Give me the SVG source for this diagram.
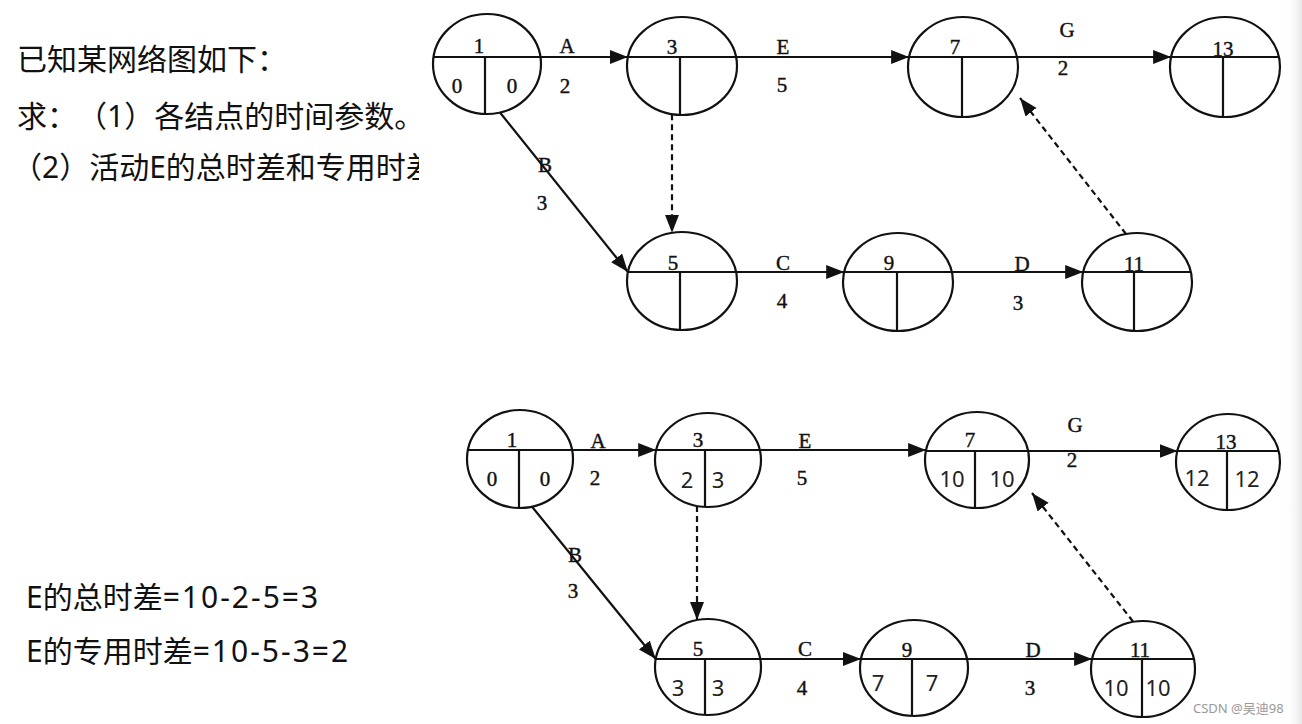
<svg xmlns="http://www.w3.org/2000/svg" width="1302" height="724" viewBox="0 0 1302 724">
<style>
.nd{fill:none;stroke:#111;stroke-width:2.2}
.ln{stroke:#111;stroke-width:2.2;fill:none}
.e{stroke:#111;stroke-width:2.2;fill:none;marker-end:url(#ah)}
.d{stroke:#111;stroke-width:2.2;fill:none;stroke-dasharray:6 4;marker-end:url(#ah)}
.s{font-family:"Liberation Serif","DejaVu Serif",serif;font-size:21px;fill:#111;stroke:#111;stroke-width:0.4;text-anchor:middle}
.v{font-family:"Noto Sans","Liberation Sans",sans-serif;font-size:22px;fill:#222;text-anchor:middle}
.cn{font-family:"Noto Sans","Noto Sans CJK SC",sans-serif;font-size:30px;fill:#111;text-spacing-trim:space-all}
.wm{font-family:"Noto Sans","Noto Sans CJK SC",sans-serif;font-size:13px;fill:#999}
</style>
<defs>
<marker id="ah" markerUnits="userSpaceOnUse" markerWidth="20" markerHeight="16" refX="18" refY="7" orient="auto" viewBox="0 0 20 16">
<path d="M0,0 L18,7 L0,14 z" fill="#111"/>
</marker>
<clipPath id="clipL"><rect x="0" y="0" width="419" height="724"/></clipPath>
<linearGradient id="edge" x1="0" y1="0" x2="1" y2="0">
<stop offset="0" stop-color="#ffffff" stop-opacity="0"/>
<stop offset="1" stop-color="#e6e6e6"/>
</linearGradient>
</defs>
<rect width="1302" height="724" fill="#fff"/>
<rect x="1284" y="0" width="18" height="724" fill="url(#edge)"/>

<g id="question" clip-path="url(#clipL)">
<text class="cn" x="17" y="70">已知某网络图如下：</text>
<text class="cn" x="17" y="127">求：（1）各结点的时间参数。</text>
<text class="cn" x="12" y="178">（2）活动E的总时差和专用时差</text>
</g>
<g id="answer">
<text class="cn" x="26" y="608">E的总时差<tspan letter-spacing="2">=10-2-5=3</tspan></text>
<text class="cn" x="26" y="662">E的专用时差<tspan letter-spacing="2">=10-5-3=2</tspan></text>
</g>

<!-- top diagram connectors -->
<g id="connectors-top">
<line class="e" x1="540.5" y1="57" x2="627.9" y2="57"/>
<line class="e" x1="736.1" y1="57" x2="909.1" y2="57"/>
<line class="e" x1="1016.9" y1="57" x2="1171.1" y2="57"/>
<line class="e" x1="500" y1="112.5" x2="627.9" y2="272"/>
<line class="d" x1="672" y1="114.2" x2="672" y2="232.8"/>
<line class="e" x1="736.1" y1="272" x2="844.2" y2="272"/>
<line class="e" x1="951.8" y1="272" x2="1083.2" y2="272"/>
<line class="d" x1="1126" y1="234" x2="1020" y2="98"/>
<text class="s" x="567" y="53">A</text><text class="s" x="565" y="93">2</text>
<text class="s" x="783" y="54">E</text><text class="s" x="782" y="92">5</text>
<text class="s" x="1067" y="37">G</text><text class="s" x="1063" y="75">2</text>
<text class="s" x="545" y="172">B</text><text class="s" x="542" y="210">3</text>
<text class="s" x="783" y="270">C</text><text class="s" x="782" y="308">4</text>
<text class="s" x="1022" y="271">D</text><text class="s" x="1018" y="310">3</text>
</g>

<g id="t1"><ellipse class="nd" cx="487" cy="64" rx="54" ry="50"/><line class="ln" x1="433.5" y1="57" x2="540.5" y2="57"/><line class="ln" x1="485" y1="57" x2="485" y2="114"/><text class="s" x="479" y="53">1</text><text class="s" x="457" y="93">0</text><text class="s" x="512" y="93">0</text></g>
<g id="t3"><ellipse class="nd" cx="682" cy="66" rx="55" ry="49"/><line class="ln" x1="627.9" y1="57" x2="736.1" y2="57"/><line class="ln" x1="680" y1="57" x2="680" y2="115"/><text class="s" x="672" y="54">3</text></g>
<g id="t7"><ellipse class="nd" cx="963" cy="67" rx="55" ry="50"/><line class="ln" x1="909.1" y1="57" x2="1016.9" y2="57"/><line class="ln" x1="962" y1="57" x2="962" y2="117"/><text class="s" x="955" y="54">7</text></g>
<g id="t13"><ellipse class="nd" cx="1225" cy="67" rx="55" ry="50"/><line class="ln" x1="1171.1" y1="57" x2="1278.9" y2="57"/><line class="ln" x1="1223" y1="57" x2="1223" y2="117"/><text class="s" x="1223" y="56">13</text></g>
<g id="t5"><ellipse class="nd" cx="682" cy="281" rx="55" ry="49"/><line class="ln" x1="627.9" y1="272" x2="736.1" y2="272"/><line class="ln" x1="680" y1="272" x2="680" y2="330"/><text class="s" x="673" y="270">5</text></g>
<g id="t9"><ellipse class="nd" cx="898" cy="282" rx="55" ry="49"/><line class="ln" x1="844.2" y1="272" x2="951.8" y2="272"/><line class="ln" x1="897" y1="272" x2="897" y2="331"/><text class="s" x="889" y="270">9</text></g>
<g id="t11"><ellipse class="nd" cx="1137" cy="282" rx="55" ry="49"/><line class="ln" x1="1083.2" y1="272" x2="1190.8" y2="272"/><line class="ln" x1="1134" y1="272" x2="1134" y2="331"/><text class="s" x="1134" y="271">11</text></g>

<!-- bottom diagram connectors -->
<g id="connectors-bottom">
<line class="e" x1="572.1" y1="450" x2="656.2" y2="450"/>
<line class="e" x1="759.8" y1="450" x2="926.1" y2="450"/>
<line class="e" x1="1027.9" y1="451" x2="1177.6" y2="451"/>
<line class="e" x1="532" y1="506.7" x2="655.7" y2="659"/>
<line class="d" x1="697" y1="506" x2="697" y2="620"/>
<line class="e" x1="760.3" y1="659" x2="861" y2="659"/>
<line class="e" x1="967" y1="659" x2="1092.1" y2="659"/>
<line class="d" x1="1133" y1="621.5" x2="1032" y2="493"/>
<text class="s" x="598" y="448">A</text><text class="s" x="595" y="485">2</text>
<text class="s" x="805" y="448">E</text><text class="s" x="802" y="485">5</text>
<text class="s" x="1075" y="432">G</text><text class="s" x="1072" y="467">2</text>
<text class="s" x="575" y="562">B</text><text class="s" x="573" y="598">3</text>
<text class="s" x="805" y="656">C</text><text class="s" x="802" y="695">4</text>
<text class="s" x="1033" y="657">D</text><text class="s" x="1030" y="695">3</text>
</g>

<g id="b1"><ellipse class="nd" cx="520" cy="459" rx="53" ry="49"/><line class="ln" x1="467.9" y1="450" x2="572.1" y2="450"/><line class="ln" x1="519" y1="450" x2="519" y2="508"/><text class="s" x="512" y="447">1</text><text class="s" x="492" y="486">0</text><text class="s" x="545" y="486">0</text></g>
<g id="b3"><ellipse class="nd" cx="708" cy="460" rx="53" ry="47"/><line class="ln" x1="656.2" y1="450" x2="759.8" y2="450"/><line class="ln" x1="705" y1="450" x2="705" y2="507"/><text class="s" x="698" y="447">3</text><text class="v" x="687" y="488">2</text><text class="v" x="718" y="488">3</text></g>
<g id="b7"><ellipse class="nd" cx="977" cy="460" rx="52" ry="48"/><line class="ln" x1="926.1" y1="451" x2="1027.9" y2="451"/><line class="ln" x1="975" y1="451" x2="975" y2="508"/><text class="s" x="970" y="447">7</text><text class="v" x="952" y="487">10</text><text class="v" x="1002" y="487">10</text></g>
<g id="b13"><ellipse class="nd" cx="1228" cy="462" rx="52" ry="48"/><line class="ln" x1="1177.6" y1="451" x2="1278.4" y2="451"/><line class="ln" x1="1227" y1="451" x2="1227" y2="510"/><text class="s" x="1226" y="449">13</text><text class="v" x="1197" y="486">12</text><text class="v" x="1247" y="487">12</text></g>
<g id="b5"><ellipse class="nd" cx="708" cy="667" rx="53" ry="48"/><line class="ln" x1="655.7" y1="659" x2="760.3" y2="659"/><line class="ln" x1="705" y1="659" x2="705" y2="715"/><text class="s" x="698" y="656">5</text><text class="v" x="678" y="696">3</text><text class="v" x="718" y="696">3</text></g>
<g id="b9"><ellipse class="nd" cx="914" cy="668" rx="54" ry="48"/><line class="ln" x1="861" y1="659" x2="967" y2="659"/><line class="ln" x1="912" y1="659" x2="912" y2="716"/><text class="s" x="907" y="657">9</text><text class="v" x="878" y="691">7</text><text class="v" x="932" y="691">7</text></g>
<g id="b11"><ellipse class="nd" cx="1143" cy="669" rx="52" ry="48"/><line class="ln" x1="1092.1" y1="659" x2="1193.9" y2="659"/><line class="ln" x1="1142" y1="659" x2="1142" y2="717"/><text class="s" x="1140" y="657">11</text><text class="v" x="1116" y="696">10</text><text class="v" x="1158" y="696">10</text></g>

<text class="wm" x="1193" y="713">CSDN @吴迪98</text>
</svg>
